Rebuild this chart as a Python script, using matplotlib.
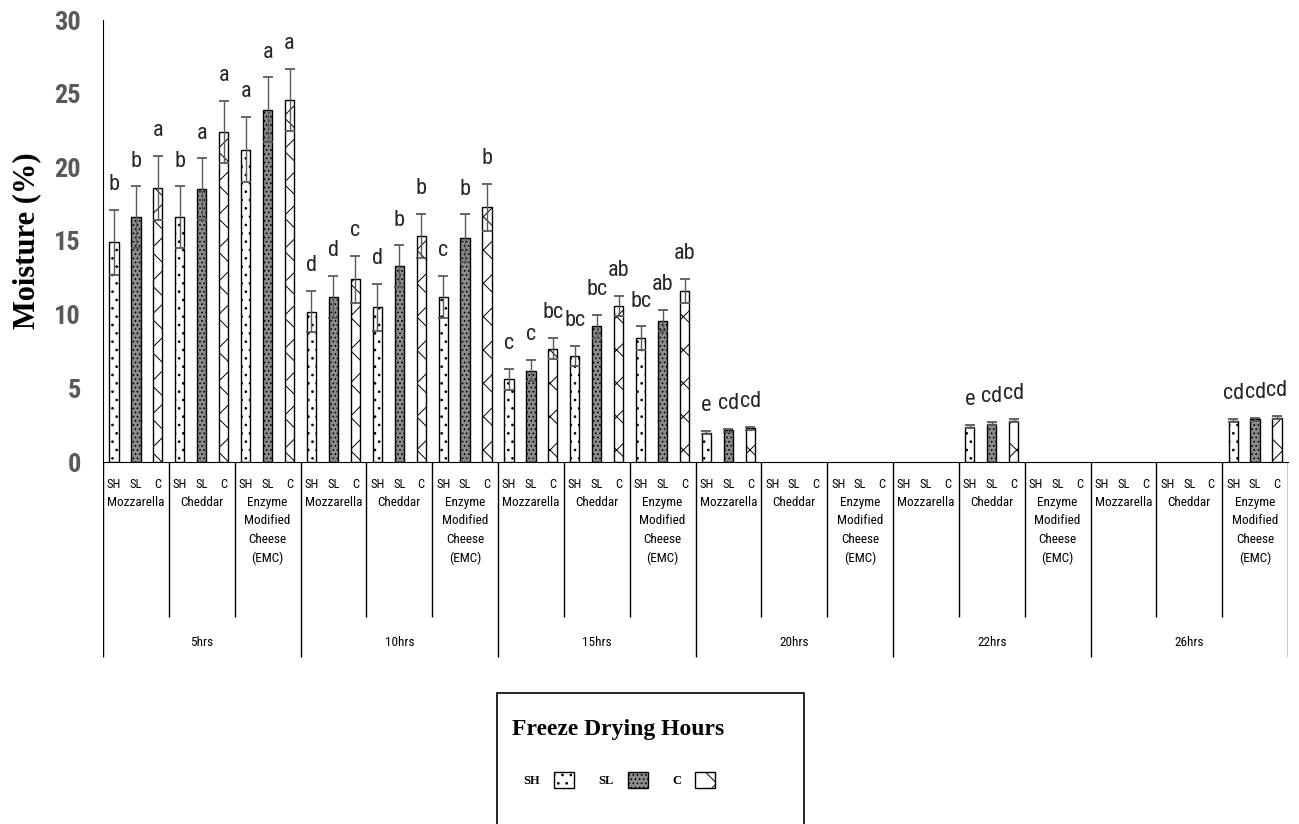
import numpy as np
import matplotlib
matplotlib.use("Agg")
import matplotlib.pyplot as plt
from matplotlib import font_manager as fm
from matplotlib.patches import Patch, Rectangle


def first_font(names, default="DejaVu Sans"):
    for n in names:
        try:
            fm.findfont(fm.FontProperties(family=n), fallback_to_default=False)
            return n
        except ValueError:
            pass
    return default


NARROW = first_font(["Liberation Sans Narrow", "Roboto Condensed", "Open Sans Condensed", "Roboto"])
SERIF = first_font(["Liberation Serif", "DejaVu Serif"])
plt.rcParams["hatch.linewidth"] = 0.7

hours = ["5hrs", "10hrs", "15hrs", "20hrs", "22hrs", "26hrs"]
cheeses = ["Mozzarella", "Cheddar", "Enzyme\nModified\nCheese\n(EMC)"]
types = ["SH", "SL", "C"]
nan = np.nan

# one entry per (hour, cheese) group, in order
sh = [14.9, 16.6, 21.2, 10.2, 10.5, 11.2, 5.6, 7.2, 8.4,
      2.0, nan, nan, nan, 2.4, nan, nan, nan, 2.8]
sl = [16.6, 18.5, 23.9, 11.2, 13.3, 15.2, 6.2, 9.2, 9.6,
      2.15, nan, nan, nan, 2.6, nan, nan, nan, 2.9]
cc = [18.6, 22.4, 24.6, 12.4, 15.35, 17.3, 7.7, 10.6, 11.6,
      2.3, nan, nan, nan, 2.8, nan, nan, nan, 3.0]
sh_err = [2.2, 2.1, 2.2, 1.4, 1.6, 1.4, 0.7, 0.7, 0.8,
          0.1, nan, nan, nan, 0.1, nan, nan, nan, 0.1]
sl_err = [2.1, 2.1, 2.2, 1.4, 1.4, 1.6, 0.7, 0.8, 0.7,
          0.1, nan, nan, nan, 0.1, nan, nan, nan, 0.1]
cc_err = [2.2, 2.1, 2.1, 1.6, 1.5, 1.6, 0.7, 0.7, 0.8,
          0.1, nan, nan, nan, 0.1, nan, nan, nan, 0.1]
sh_let = ["b", "b", "a", "d", "d", "c", "c", "bc", "bc",
          "e", "", "", "", "e", "", "", "", "cd"]
sl_let = ["b", "a", "a", "d", "b", "b", "c", "bc", "ab",
          "cd", "", "", "", "cd", "", "", "", "cd"]
cc_let = ["a", "a", "a", "c", "b", "b", "bc", "ab", "ab",
          "cd", "", "", "", "cd", "", "", "", "cd"]

styles = {
    "SH": dict(facecolor="white", edgecolor="black", hatch="..", linewidth=1.0),
    "SL": dict(facecolor="#8c8c8c", edgecolor="black", hatch="....", linewidth=1.0),
    "C": dict(facecolor="white", edgecolor="black", hatch="x", linewidth=1.0),
}

W, H = 1299, 824
fig = plt.figure(figsize=(W / 100, H / 100), dpi=100)
X0, X1, Y0, Y1 = 103, 1288, 462, 20
ax = fig.add_axes([X0 / W, 1 - Y0 / H, (X1 - X0) / W, (Y0 - Y1) / H])
n_groups = len(hours) * len(cheeses)
n_slots = n_groups * len(types)
ax.set_xlim(0, n_slots)
ax.set_ylim(0, 30)

series = zip(types, [sh, sl, cc], [sh_err, sl_err, cc_err], [sh_let, sl_let, cc_let])
for t, (name, vals, errs, lets) in enumerate(series):
    pos = np.arange(n_groups) * len(types) + t + 0.5
    ax.bar(pos, vals, width=0.42, **styles[name])
    ax.errorbar(pos, vals, yerr=errs, fmt="none", ecolor="#5a5a5a",
                elinewidth=1, capsize=3.5, capthick=1.3)
    for p, v, e, l in zip(pos, vals, errs, lets):
        if l:
            ax.text(p, v + e + 1.35, l, ha="center", va="baseline",
                    fontsize=16, family=NARROW, color="#262626")

ax.set_xticks([])
ax.set_yticks(range(0, 31, 5))
ax.tick_params(axis="y", length=0, pad=16, labelsize=19, labelcolor="#595959")
for lab in ax.get_yticklabels():
    lab.set_family(NARROW)
    lab.set_fontweight("bold")
for s in ["top", "right"]:
    ax.spines[s].set_visible(False)
ax.set_ylabel("Moisture (%)", family=SERIF, fontweight="bold", fontsize=22, labelpad=9)

# category table under the axis
tab = fig.add_axes([X0 / W, 1 - 660 / H, (X1 - X0) / W, 198 / H])
tab.set_xlim(0, n_slots)
tab.set_ylim(198, 0)
tab.axis("off")
for k in range(0, n_slots + 1, 3):
    tab.vlines(k, 0, 195 if k % 9 == 0 else 155, color="black", lw=1)
for i in range(n_slots):
    tab.text(i + 0.5, 23, types[i % 3], ha="center", va="center",
             fontsize=9, family=NARROW)
for g in range(n_groups):
    tab.text(g * 3 + 1.5, 34, cheeses[g % 3], ha="center", va="top",
             fontsize=9.5, family=NARROW, linespacing=1.55)
for h, lab in enumerate(hours):
    tab.text(h * 9 + 4.5, 181, lab, ha="center", va="center",
             fontsize=9.5, family=NARROW)

# legend box
fig.patches.append(Rectangle((497 / W, -0.02), 307 / W, 1 - 693 / H + 0.02,
                             transform=fig.transFigure, fill=False,
                             edgecolor="black", lw=1.2))
fig.text(512 / W, 1 - 730 / H, "Freeze Drying Hours", family=SERIF,
         fontweight="bold", fontsize=17, ha="left", va="center")
handles = [Patch(**styles[n]) for n in types]
fig.legend(handles, types, loc="center left", bbox_to_anchor=(512 / W, 1 - 780 / H),
           ncol=3, frameon=False, markerfirst=False, handlelength=1.6,
           handleheight=1.6, columnspacing=2.0, handletextpad=1.1,
           prop=dict(family=SERIF, weight="bold", size=9))

fig.savefig("out.png", dpi=100)
